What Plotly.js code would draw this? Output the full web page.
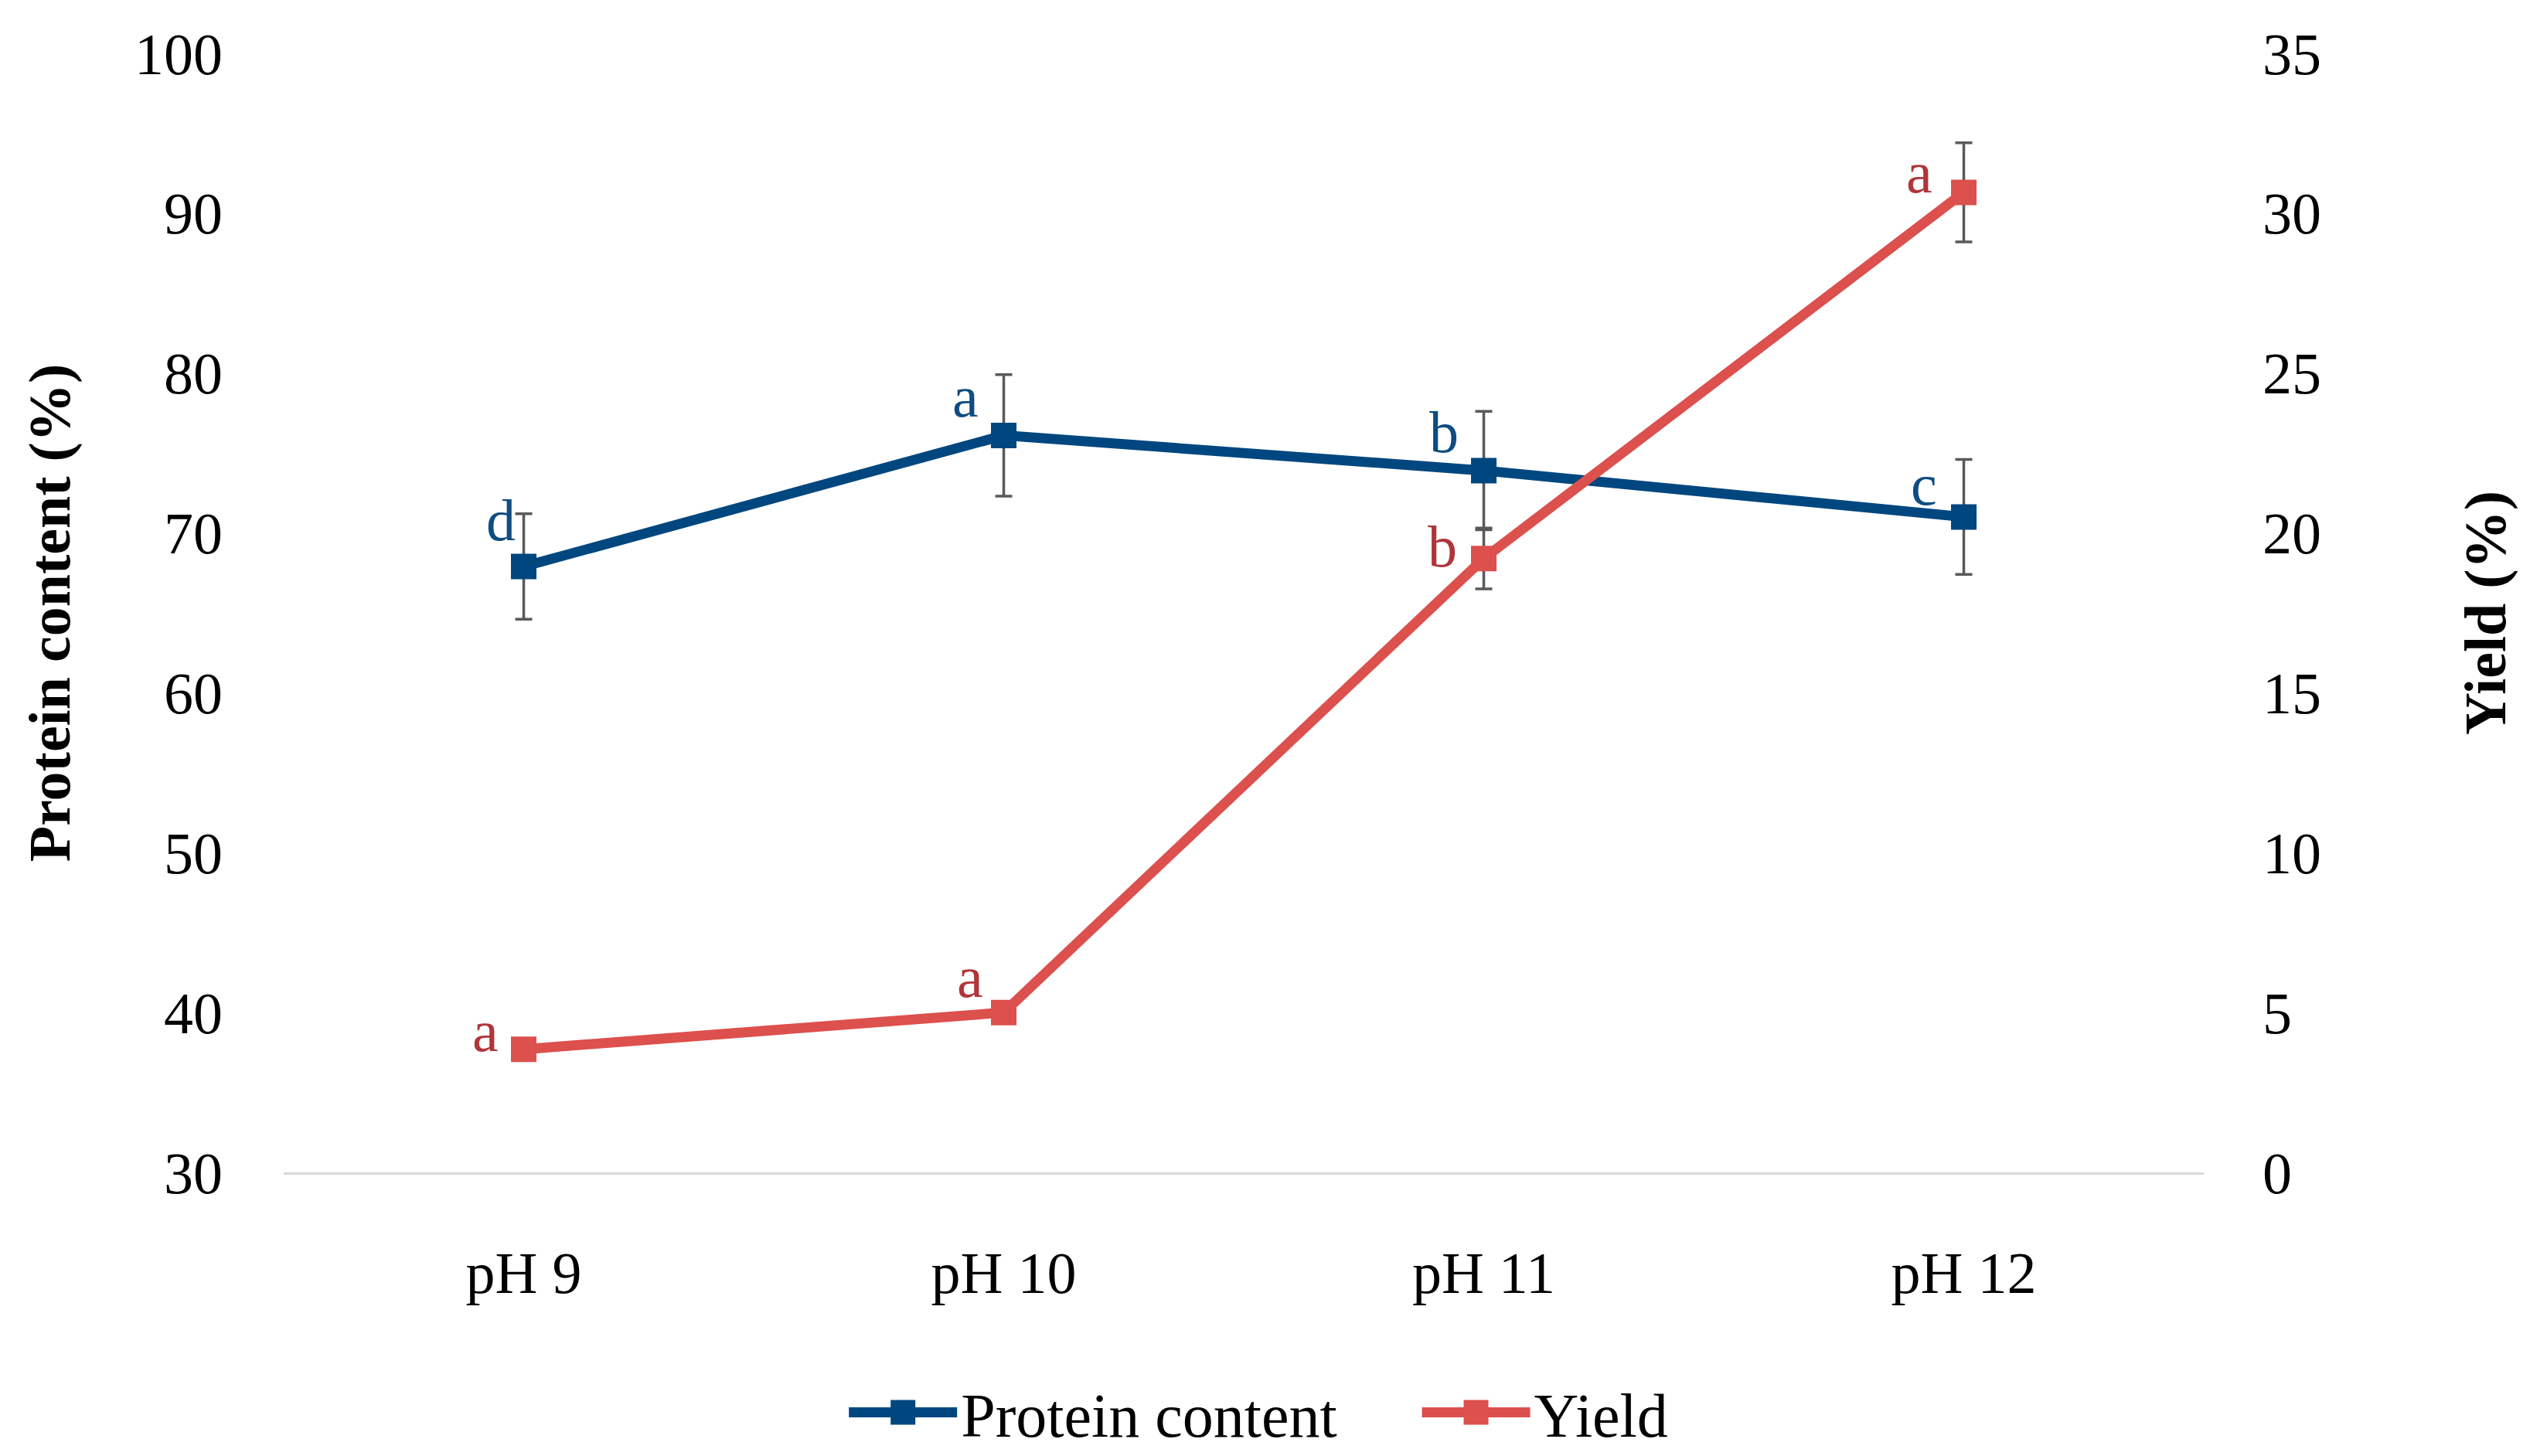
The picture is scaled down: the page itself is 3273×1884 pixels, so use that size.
<!DOCTYPE html>
<html>
<head>
<meta charset="utf-8">
<script src="https://cdn.plot.ly/plotly-3.0.1.min.js"></script>
<style>html,body{margin:0;padding:0;background:#fff;}#chart{width:3273px;height:1884px;}</style>
</head>
<body>
<div id="chart"></div>
<script>
// ---- data ----
var categories = ["pH 9", "pH 10", "pH 11", "pH 12"];
var proteinContent = [67.9, 76.1, 73.9, 71.0];
var proteinError = [3.3, 3.8, 3.7, 3.6];
var proteinLetters = ["d", "a", "b", "c"];
var yieldValues = [3.85, 5.0, 19.2, 30.65];
var yieldError = [null, null, 0.95, 1.55];
var yieldLetters = ["a", "a", "b", "a"];

// ---- styles ----
var FONT = "Liberation Serif, Times New Roman, serif";
var BLUE = "#00477f";
var RED = "#dc504d";
var BLUE_TXT = "#0f4c81";
var RED_TXT = "#b0353a";
var ERR = "#595959";
var FS = 76;
var LW = 13;
var MS = 33;

var proteinShift = [[-30, 60], [-50, 50], [-52, 50], [-52, 42]];
var yieldShift = [[-50, 24], [-44, 46], [-54, 16], [-58, 26]];

var traces = [
  {
    x: categories, y: proteinContent, name: "Protein content", type: "scatter",
    mode: "lines+markers", yaxis: "y", legend: "legend",
    line: {color: BLUE, width: LW},
    marker: {symbol: "square", size: MS, color: BLUE},
    error_y: {type: "data", array: proteinError, visible: true, color: ERR, thickness: 3.5, width: 11}
  },
  {
    x: categories, y: yieldValues, name: "Yield", type: "scatter",
    mode: "lines+markers", yaxis: "y2", legend: "legend2",
    line: {color: RED, width: LW},
    marker: {symbol: "square", size: MS, color: RED},
    error_y: {type: "data", array: yieldError, visible: true, color: ERR, thickness: 3.5, width: 11}
  }
];

var annotations = [];
categories.forEach(function (c, i) {
  annotations.push({
    x: c, y: proteinContent[i], xref: "x", yref: "y", text: proteinLetters[i],
    showarrow: false, xshift: proteinShift[i][0], yshift: proteinShift[i][1],
    font: {family: FONT, size: FS, color: BLUE_TXT}
  });
  annotations.push({
    x: c, y: yieldValues[i], xref: "x", yref: "y2", text: yieldLetters[i],
    showarrow: false, xshift: yieldShift[i][0], yshift: yieldShift[i][1],
    font: {family: FONT, size: FS, color: RED_TXT}
  });
});

function legendBox(xpos) {
  return {
    orientation: "h", xref: "container", yref: "container",
    x: xpos, xanchor: "left", y: 0.03, yanchor: "middle",
    font: {family: FONT, size: 80, color: "#000"},
    itemwidth: 140, borderwidth: 0, bgcolor: "rgba(0,0,0,0)"
  };
}

var layout = {
  width: 3273, height: 1884,
  paper_bgcolor: "#fff", plot_bgcolor: "#fff",
  margin: {l: 367, r: 422, t: 69, b: 367, pad: 0},
  font: {family: FONT, size: FS, color: "#000"},
  showlegend: true,
  legend: legendBox(0.334),
  legend2: legendBox(0.5605),
  xaxis: {
    type: "category", range: [-0.5, 3.5],
    showgrid: false, zeroline: false,
    showline: true, linecolor: "#d9d9d9", linewidth: 3,
    ticks: "", ticklabelstandoff: 62,
    tickfont: {family: FONT, size: FS, color: "#000"}
  },
  yaxis: {
    range: [30, 100], dtick: 10, tick0: 30,
    showgrid: false, zeroline: false, showline: false,
    ticks: "", ticklabelstandoff: 78,
    tickfont: {family: FONT, size: FS, color: "#000"},
    title: {text: "<b>Protein content (%)</b>", standoff: 58, font: {family: FONT, size: FS, color: "#000"}}
  },
  yaxis2: {
    range: [0, 35], dtick: 5, tick0: 0,
    overlaying: "y", side: "right",
    showgrid: false, zeroline: false, showline: false,
    ticks: "", ticklabelstandoff: 75,
    tickfont: {family: FONT, size: FS, color: "#000"},
    title: {text: "<b>Yield (%)</b>", standoff: 185, font: {family: FONT, size: FS, color: "#000"}}
  },
  annotations: annotations
};

Plotly.newPlot("chart", traces, layout, {displayModeBar: false, staticPlot: true}).then(function (gd) {
  // thicken legend symbols (both legends) to match the chart marks
  gd.querySelectorAll(".legendlines path").forEach(function (p) {
    p.style.strokeWidth = LW + "px";
  });
  gd.querySelectorAll(".legendpoints path.scatterpts").forEach(function (p) {
    var r = 16;
    p.setAttribute("d", "M" + r + "," + r + "H-" + r + "V-" + r + "H" + r + "Z");
  });
});
</script>
</body>
</html>
